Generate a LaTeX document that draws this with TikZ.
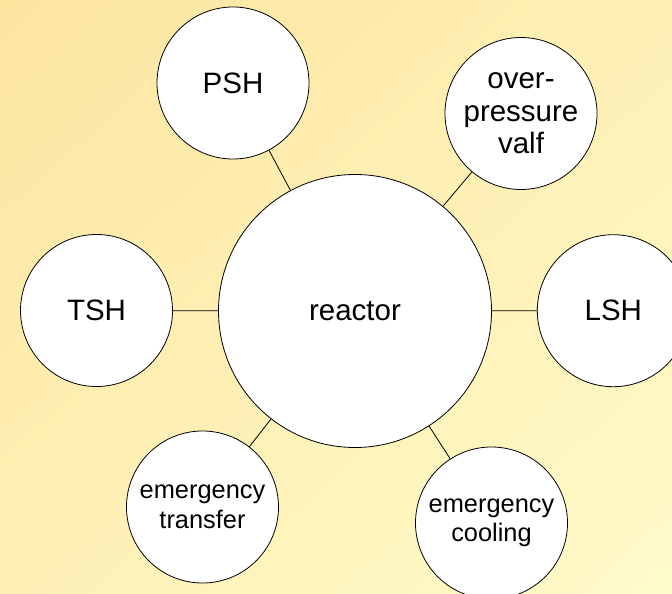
\documentclass[tikz,border=0pt]{standalone}
\usepackage{fontspec}
\setmainfont{Liberation Sans}
\definecolor{bgA}{RGB}{253,229,160}
\definecolor{bgB}{RGB}{255,251,202}
\tikzset{
  bubble/.style={circle, draw=black, line width=0.8pt, fill=white, inner sep=0pt, minimum size=152pt, align=center, font=\fontsize{29.5}{32.5}\selectfont},
  smallbubble/.style={bubble, font=\fontsize{25.4}{29.5}\selectfont},
  link/.style={draw=black, line width=0.8pt}
}
\begin{document}
\begin{tikzpicture}[x=1pt,y=-1pt]
\useasboundingbox (0,0) rectangle (672,594);
\clip (0,0) rectangle (672,594);
\foreach \k in {0,...,59}{
  \pgfmathsetmacro{\ta}{\k/30}
  \pgfmathsetmacro{\tb}{(\k+1)/30+0.01}
  \pgfmathsetmacro{\pc}{(\k+0.5)/60*100}
  \fill[bgB!\pc!bgA] (672*\ta,0) -- (672*\tb,0) -- (0,594*\tb) -- (0,594*\ta) -- cycle;
}
\node[bubble, minimum size=273pt] (reactor) at (355,311) {reactor};
\node[bubble] (psh) at (233,83) {PSH};
\node[bubble] (opv) at (521,113.5) {over-\\pressure\\valf};
\node[bubble] (tsh) at (96.5,310.5) {TSH};
\node[bubble] (lsh) at (613.3,310.7) {LSH};
\node[smallbubble] (et) at (202.5,507) {emergency\\transfer};
\node[smallbubble] (ec) at (491.5,523) {emergency\\cooling};
\draw[link] (reactor) -- (psh);
\draw[link] (reactor) -- (opv);
\draw[link] (reactor) -- (tsh);
\draw[link] (reactor) -- (lsh);
\draw[link] (reactor) -- (et);
\draw[link] (reactor) -- (ec);
\end{tikzpicture}
\end{document}
